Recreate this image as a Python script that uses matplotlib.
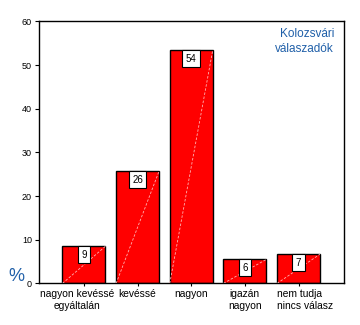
import numpy as np
import matplotlib.pyplot as plt
from matplotlib.transforms import ScaledTranslation

plt.rcParams['font.family'] = ['Liberation Sans', 'DejaVu Sans']

categories = ['nagyon kevéssé\negyáltalán', 'kevéssé', 'nagyon', 'igazán\nnagyon', 'nem tudja\nnincs válasz']
values = [8.5, 25.7, 53.4, 5.5, 6.7]
labels = ['9', '26', '54', '6', '7']

fig = plt.figure(figsize=(3.6, 3.25), dpi=100)
ax = fig.add_axes([0.108, 0.128, 0.848, 0.806])

x = np.arange(len(values))
w = 0.8
ax.bar(x, values, width=w, color='#ff0000', edgecolor='black', linewidth=1.0, zorder=2)

# faint diagonal line in each bar
for xi, v in zip(x, values):
    ax.plot([xi - w / 2, xi + w / 2], [0, v], color='#ffb3b3', lw=0.6,
            ls=(0, (3, 2)), zorder=3)

for xi, v, lab in zip(x, values, labels):
    ax.annotate(lab, (xi, v), xytext=(0, -2.5), textcoords='offset points',
                ha='center', va='top', fontsize=7, zorder=4,
                bbox=dict(boxstyle='square,pad=0.35', fc='white', ec='black', lw=0.8))

ax.set_xlim(-0.84, 4.85)
ax.set_ylim(0, 60)
ax.set_yticks([0, 10, 20, 30, 40, 50, 60])
ax.set_xticks(x)
ax.set_xticklabels(categories, fontsize=7.4, linespacing=1.3)
ax.tick_params(axis='y', labelsize=6.5, length=3, width=0.8, pad=2)
ax.tick_params(axis='x', length=2, width=0.8, pad=2)
for s in ax.spines.values():
    s.set_linewidth(1.0)

# nudge the first and last category labels like the original
tl = ax.get_xticklabels()
tl[0].set_transform(tl[0].get_transform() + ScaledTranslation(-7 / 100, 0, fig.dpi_scale_trans))
tl[4].set_multialignment('left')
tl[4].set_transform(tl[4].get_transform() + ScaledTranslation(7 / 100, 0, fig.dpi_scale_trans))

ax.text(0.967, 0.975, 'Kolozsvári\nválaszadók', transform=ax.transAxes,
        ha='right', va='top', fontsize=8.5, color='#1f5fa8', linespacing=1.3)
fig.text(0.022, 0.148, '%', fontsize=13, color='#1f5fa8', ha='left', va='center')

fig.savefig('out.png', dpi=100)
